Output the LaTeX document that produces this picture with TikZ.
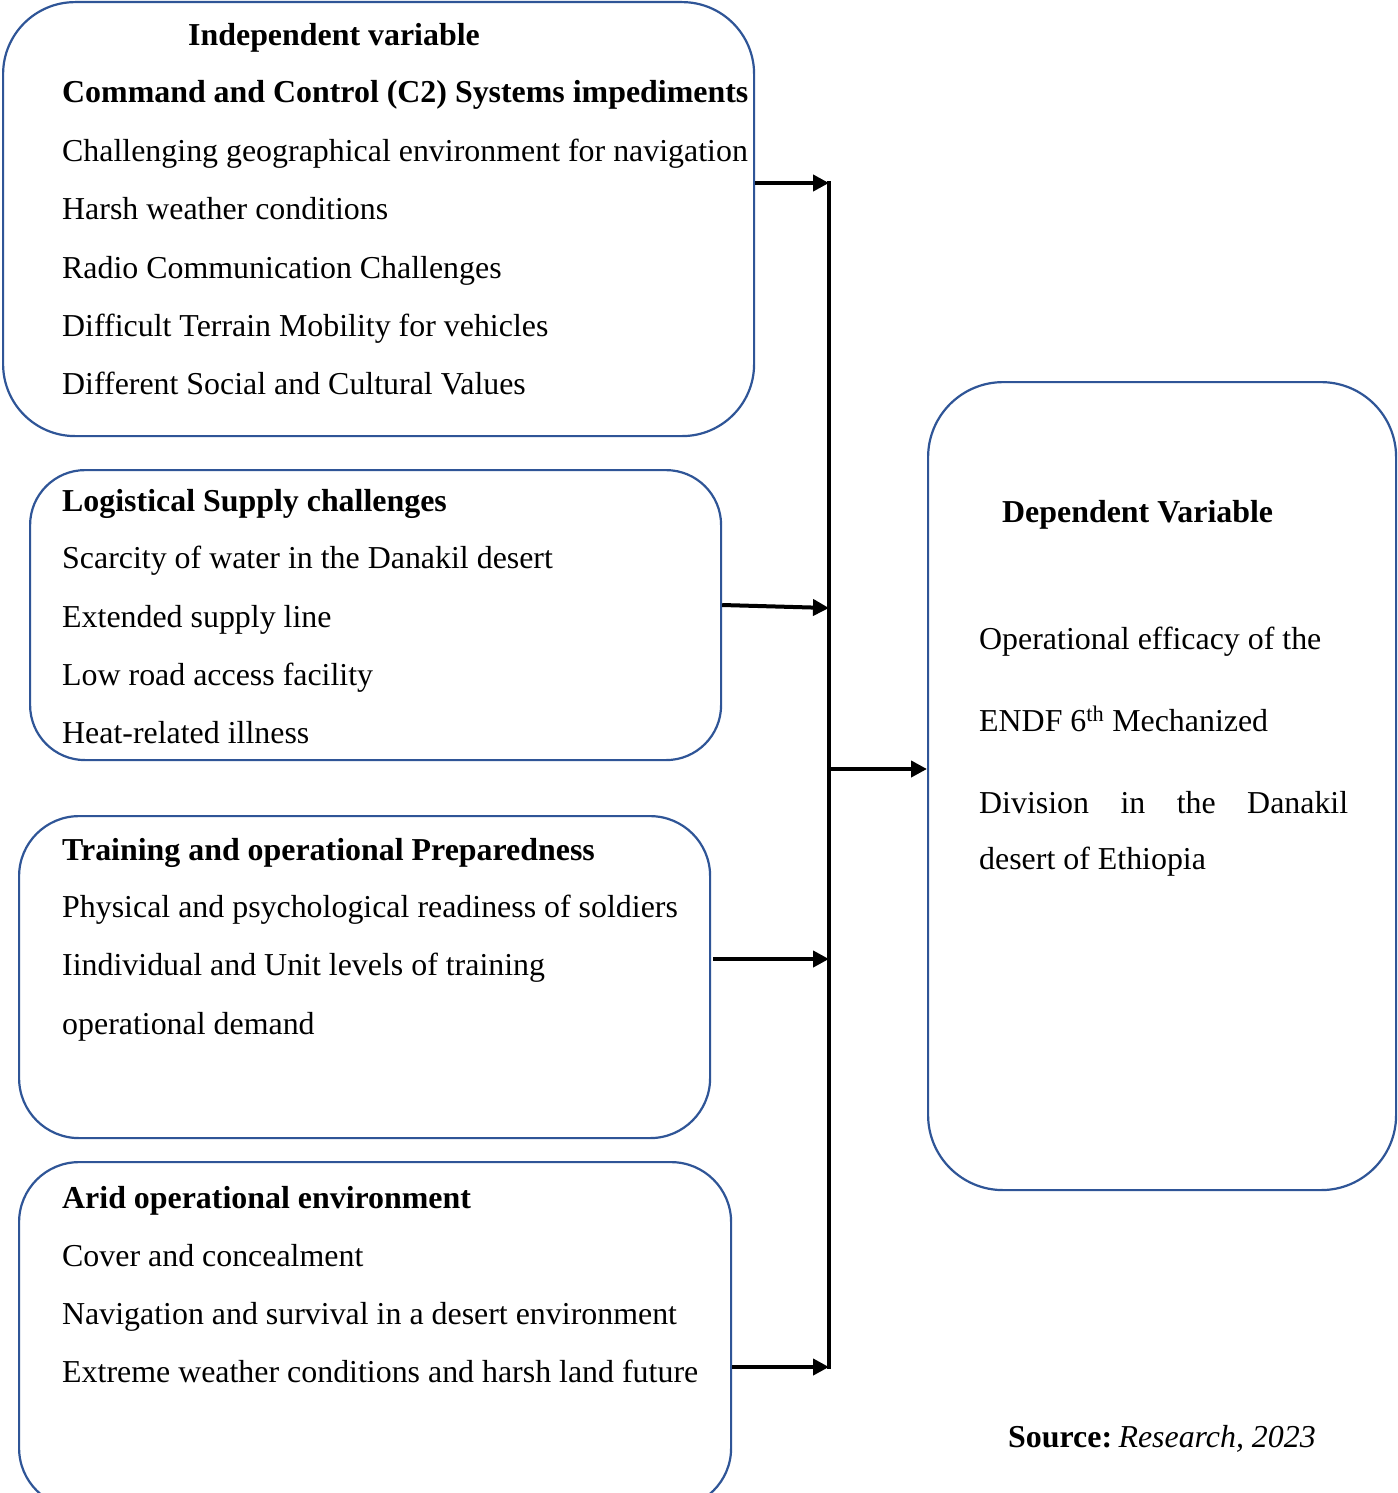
\documentclass[tikz,border=0pt]{standalone}
\usepackage{fontspec}
\setmainfont{Liberation Serif}
\usetikzlibrary{arrows.meta,calc}
\definecolor{boxblue}{RGB}{47,85,151}
\tikzset{
  frame/.style={draw=boxblue, line width=2.2pt, rectangle, anchor=north west, inner sep=0pt},
  txt/.style={anchor=base west, inner sep=0pt, font=\fontsize{31.9pt}{38pt}\selectfont},
  hd/.style={txt, font=\fontsize{31.9pt}{38pt}\selectfont\bfseries},
  arr/.style={line width=4pt, -{Triangle[length=16pt,width=16pt]}},
  busline/.style={line width=4pt}
}
\begin{document}
\begin{tikzpicture}[x=1pt,y=-1pt]
\clip (0,0) rectangle (1397,1493);
\fill[white] (0,0) rectangle (1397,1493);
% boxes
\node[frame, rounded corners=72pt, minimum width=751pt, minimum height=434pt] (b1) at (2,1) {};
\node[frame, rounded corners=55pt, minimum width=691pt, minimum height=290pt] (b2) at (29,469) {};
\node[frame, rounded corners=60pt, minimum width=691pt, minimum height=322pt] (b3) at (18,815) {};
\node[frame, rounded corners=60pt, minimum width=712pt, minimum height=346pt] (b4) at (18,1161) {};
\node[frame, rounded corners=75pt, minimum width=468pt, minimum height=808pt] (b5) at (927,381) {};
% box 1 text
\node[hd, anchor=base] (t10) at (334,46) {Independent variable};
\node[hd] (t11) at (62,103) {Command and Control (C2) Systems impediments};
\node[txt] (t12) at (62,161) {Challenging geographical environment for navigation};
\node[txt] (t13) at (62,219) {Harsh weather conditions};
\node[txt] (t14) at (62,278) {Radio Communication Challenges};
\node[txt] (t15) at (62,336) {Difficult Terrain Mobility for vehicles};
\node[txt] (t16) at (62,394) {Different Social and Cultural Values};
% box 2 text
\node[hd] (t21) at (62,511) {Logistical Supply challenges};
\node[txt] (t22) at (62,568) {Scarcity of water in the Danakil desert};
\node[txt] (t23) at (62,627) {Extended supply line};
\node[txt] (t24) at (62,685) {Low road access facility};
\node[txt] (t25) at (62,743) {Heat-related illness};
% box 3 text
\node[hd] (t31) at (62,860) {Training and operational Preparedness};
\node[txt] (t32) at (62,917) {Physical and psychological readiness of soldiers};
\node[txt] (t33) at (62,975) {Iindividual and Unit levels of training};
\node[txt] (t34) at (62,1034) {operational demand};
% box 4 text
\node[hd] (t41) at (62,1208) {Arid operational environment};
\node[txt] (t42) at (62,1266) {Cover and concealment};
\node[txt] (t43) at (62,1324) {Navigation and survival in a desert environment};
\node[txt] (t44) at (62,1382) {Extreme weather conditions and harsh land future};
% right box text
\node[hd] (t51) at (1002,522) {Dependent Variable};
\node[txt] (t52) at (979,649) {Operational efficacy of the};
\node[txt] (t53) at (979,731) {ENDF 6\textsuperscript{th} Mechanized};
\node[txt] (t54) at (979,813) {\makebox[369pt][s]{Division\hfill in\hfill the\hfill Danakil}};
\node[txt] (t55) at (979,869) {desert of Ethiopia};
% source
\node[txt] (src) at (1008,1447) {\textbf{Source:}\hspace{0.2em}\textit{Research, 2023}};
% connectors
\coordinate (bt) at (829,183);
\coordinate (bb) at (829,1367);
\coordinate (a2) at (829,608);
\coordinate (s2) at (0,605);
\coordinate (a3) at (829,959);
\coordinate (s3) at (713,959);
\coordinate (a5) at (829,769);
\draw[busline] ($(bt)+(0,-2)$) -- ($(bb)+(0,2)$);
\draw[arr] (b1.east |- bt) -- (bt);
\draw[arr] (b2.east |- s2) -- (a2);
\draw[arr] (s3) -- (a3);
\draw[arr] (b4.east |- bb) -- (bb);
\draw[arr] (a5) -- (b5.west |- a5);
\end{tikzpicture}
\end{document}
